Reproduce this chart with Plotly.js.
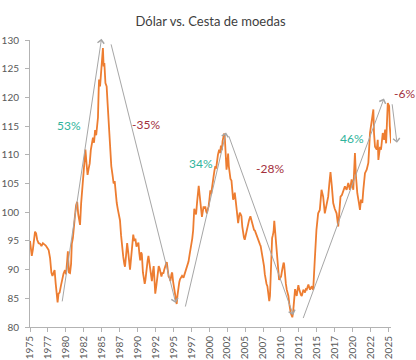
<!DOCTYPE html>
<html>
<head>
<meta charset="utf-8">
<script src="https://cdn.plot.ly/plotly-3.0.1.min.js"></script>
<style>html,body{margin:0;padding:0;background:#fff;}#chart{width:416px;height:360px;}</style>
</head>
<body>
<div id="chart"></div>
<script>
// Decimal year of each observation
const years = [
1975.00,1975.10,1975.25,1975.40,1975.55,1975.70,1975.85,1976.00,1976.20,1976.40,1976.60,1976.80,
1977.00,1977.20,1977.40,1977.60,1977.80,1977.98,1978.13,1978.28,1978.43,1978.58,1978.73,1978.85,
1978.98,1979.13,1979.33,1979.53,1979.68,1979.88,1980.03,1980.18,1980.28,1980.43,1980.58,1980.73,
1980.83,1980.98,1981.13,1981.28,1981.43,1981.58,1981.73,1981.88,1981.98,1982.13,1982.28,1982.43,
1982.58,1982.73,1982.88,1983.03,1983.18,1983.33,1983.48,1983.63,1983.78,1983.93,1984.08,1984.23,
1984.38,1984.48,1984.57,1984.63,1984.77,1984.87,1984.97,1985.10,1985.17,1985.27,1985.37,1985.52,
1985.69,1985.82,1985.93,1986.06,1986.18,1986.34,1986.51,1986.66,1986.81,1986.95,1987.10,1987.25,
1987.40,1987.55,1987.70,1987.85,1988.00,1988.15,1988.25,1988.40,1988.55,1988.70,1988.85,1988.95,
1989.10,1989.25,1989.40,1989.55,1989.70,1989.85,1990.00,1990.12,1990.25,1990.37,1990.50,1990.60,
1990.75,1990.85,1991.00,1991.10,1991.25,1991.40,1991.52,1991.65,1991.75,1991.90,1992.00,1992.15,
1992.25,1992.37,1992.47,1992.60,1992.70,1992.85,1992.95,1993.08,1993.18,1993.33,1993.48,1993.60,
1993.73,1993.85,1993.98,1994.08,1994.23,1994.33,1994.48,1994.58,1994.73,1994.83,1994.97,1995.12,
1995.24,1995.37,1995.46,1995.57,1995.69,1995.82,1995.92,1996.06,1996.21,1996.41,1996.61,1996.76,
1996.86,1997.01,1997.11,1997.26,1997.36,1997.51,1997.63,1997.76,1997.86,1997.91,1998.03,1998.16,
1998.31,1998.43,1998.53,1998.66,1998.76,1998.88,1998.98,1999.11,1999.21,1999.33,1999.45,1999.56,
1999.68,1999.81,1999.91,2000.03,2000.15,2000.27,2000.38,2000.49,2000.61,2000.73,2000.85,2000.96,
2001.06,2001.21,2001.38,2001.51,2001.63,2001.76,2001.86,2001.99,2002.08,2002.18,2002.29,2002.41,
2002.53,2002.63,2002.73,2002.86,2002.96,2003.10,2003.24,2003.33,2003.46,2003.56,2003.69,2003.79,
2003.91,2004.03,2004.14,2004.26,2004.39,2004.49,2004.61,2004.73,2004.84,2004.95,2005.05,2005.17,
2005.29,2005.41,2005.57,2005.74,2005.87,2005.97,2006.12,2006.25,2006.37,2006.47,2006.59,2006.72,
2006.84,2006.97,2007.07,2007.17,2007.27,2007.37,2007.50,2007.64,2007.75,2007.87,2007.99,2008.11,
2008.19,2008.27,2008.37,2008.47,2008.57,2008.67,2008.77,2008.87,2008.97,2009.07,2009.15,2009.27,
2009.39,2009.51,2009.62,2009.74,2009.87,2010.02,2010.15,2010.27,2010.37,2010.44,2010.57,2010.69,
2010.81,2010.93,2011.04,2011.17,2011.27,2011.37,2011.47,2011.59,2011.69,2011.77,2011.87,2011.97,
2012.09,2012.20,2012.31,2012.43,2012.54,2012.66,2012.78,2012.90,2013.01,2013.13,2013.26,2013.36,
2013.48,2013.60,2013.72,2013.83,2013.96,2014.06,2014.18,2014.30,2014.41,2014.50,2014.72,2014.95,
2015.19,2015.42,2015.66,2015.89,2016.12,2016.35,2016.59,2016.75,2016.91,2017.10,2017.29,2017.50,
2017.76,2017.99,2018.15,2018.31,2018.50,2018.69,2018.92,2019.16,2019.39,2019.62,2019.86,2020.09,
2020.32,2020.46,2020.65,2020.88,2021.02,2021.16,2021.35,2021.49,2021.72,2021.96,2022.19,2022.42,
2022.66,2022.89,2022.98,2023.12,2023.36,2023.50,2023.59,2023.82,2023.96,2024.20,2024.39,2024.53,
2024.67,2024.90,2025.09,2025.18,2025.37
];
// Dollar index vs. basket of currencies
const dollarIndex = [
95.0,93.2,92.4,93.5,95.8,96.6,96.3,95.2,94.6,94.5,94.1,94.6,
94.4,94.2,93.8,93.4,92.0,89.5,88.9,89.6,89.9,87.6,85.8,84.3,
85.8,86.0,87.3,88.6,89.3,89.9,89.2,91.5,93.2,89.5,89.4,91.0,
94.5,95.5,97.0,99.5,101.2,101.8,99.6,98.6,97.8,101.5,104.0,107.4,
109.8,110.9,108.5,106.5,107.6,108.5,110.8,112.2,113.0,112.1,114.3,113.4,
115.0,116.5,121.0,123.1,121.9,123.7,126.0,128.3,128.6,125.4,126.0,122.5,
121.9,119.0,116.1,113.0,111.0,108.0,106.5,105.0,105.4,103.0,101.6,100.5,
99.5,98.6,96.0,93.2,92.3,91.0,90.5,92.5,94.6,93.0,91.2,90.0,
92.0,94.8,96.1,95.0,95.4,94.0,94.3,94.7,92.8,91.6,93.0,92.7,
89.5,88.6,87.5,88.2,90.4,91.5,92.4,91.0,90.0,88.5,88.0,89.8,
90.6,88.0,85.8,87.0,88.3,89.8,90.6,90.2,89.7,88.8,89.5,89.3,
90.0,90.7,91.0,91.3,89.8,88.8,88.5,88.0,89.2,89.5,87.8,86.5,
85.3,84.3,84.0,85.5,87.2,87.8,88.3,88.6,88.9,88.6,89.4,89.6,
90.0,90.8,91.4,92.6,93.3,94.5,95.4,96.9,99.5,100.6,100.0,99.6,
101.8,103.5,104.6,103.0,101.5,100.0,99.2,100.2,101.0,100.6,101.0,100.2,
99.8,100.6,101.0,102.3,103.8,103.2,104.5,105.6,106.3,107.3,108.0,107.6,
108.7,110.0,110.9,110.3,111.6,110.8,112.4,113.0,113.7,112.8,110.5,107.4,
108.5,110.2,108.0,106.6,105.8,105.5,104.0,102.2,102.6,103.4,102.0,101.0,
100.0,98.1,99.1,99.9,99.6,99.3,97.5,95.8,95.6,95.2,95.8,96.4,
97.4,98.1,98.7,99.3,98.6,98.1,97.3,96.9,96.8,96.4,96.1,95.8,
95.3,94.6,94.4,94.1,93.4,92.3,91.5,90.6,89.2,87.7,87.5,87.1,
85.9,84.8,84.5,85.4,89.0,93.5,95.5,96.0,96.6,98.5,97.3,95.8,
93.5,91.7,89.8,88.2,88.5,88.8,89.8,90.6,91.2,91.0,88.2,87.5,
86.5,86.0,85.4,84.0,83.0,82.4,82.1,81.7,82.5,83.8,85.3,86.6,
85.9,85.4,86.4,87.3,86.6,86.0,85.6,85.4,86.0,86.5,86.2,86.0,
86.6,86.5,87.0,87.4,86.8,86.5,86.8,87.1,86.7,86.5,91.7,96.9,
99.8,100.4,103.9,102.7,99.8,101.0,102.7,105.0,107.0,104.5,101.6,100.6,
99.8,97.5,100.0,102.7,103.0,103.9,104.5,103.9,105.1,103.9,105.7,103.9,
110.3,106.3,103.3,101.6,100.4,102.2,101.6,103.9,106.8,107.4,108.6,113.8,
115.6,117.9,113.8,111.4,110.9,112.6,109.1,111.4,110.9,113.8,112.6,114.4,
112.0,119.0,118.5,115.0,112.0
];
// X axis ticks every 30 months, labelled by year
const tickYears = [1975,1977.5,1980,1982.5,1985,1987.5,1990,1992.5,1995,1997.5,2000,2002.5,2005,2007.5,2010,2012.5,2015,2017.5,2020,2022.5,2025];
const tickLabels = ["1975","1977","1980","1982","1985","1987","1990","1992","1995","1997","2000","2002","2005","2007","2010","2012","2015","2017","2020","2022","2025"];
const yTicks = [80,85,90,95,100,105,110,115,120,125,130];
// Cycle move labels
const moveLabels = ["53%","-35%","34%","-28%","46%","-6%"];

const teal = "#2fb39c", red = "#a3303c", arrowGray = "#a6a6a6";
const lblFont = (c) => ({family: "Lato, 'Open Sans', sans-serif", size: 12, color: c});

const arrows = [
  {x:1984.97, y:130.2, ax:1979.46, ay:84.2},
  {x:1995.32, y:84.2, ax:1986.26, ay:129.5},
  {x:2002.34, y:113.9, ax:1996.62, ay:83.3},
  {x:2011.72, y:82.1, ax:2002.66, ay:113.5},
  {x:2024.37, y:119.8, ax:2013.03, ay:81.3}
].map(a => Object.assign({xref:'x', yref:'y', axref:'x', ayref:'y', showarrow:true,
   arrowhead:4, arrowsize:1.3, arrowwidth:1, arrowcolor:arrowGray, text:''}, a));
arrows.push({xref:'paper', yref:'y', x:1.0165, y:112.1, axref:'pixel', ayref:'pixel', ax:-5, ay:-40,
   showarrow:true, arrowhead:4, arrowsize:1.3, arrowwidth:1, arrowcolor:arrowGray, text:''});

const labels = [
  {xref:'x', yref:'y', x:1980.37, y:115.1, text:moveLabels[0], font:lblFont(teal)},
  {xref:'x', yref:'y', x:1991.2, y:115.2, text:moveLabels[1], font:lblFont(red)},
  {xref:'x', yref:'y', x:1998.85, y:108.5, text:moveLabels[2], font:lblFont(teal)},
  {xref:'x', yref:'y', x:2008.5, y:107.7, text:moveLabels[3], font:lblFont(red)},
  {xref:'x', yref:'y', x:2019.87, y:112.8, text:moveLabels[4], font:lblFont(teal)},
  {xref:'paper', yref:'y', x:1.037, y:120.6, text:moveLabels[5], font:lblFont(red)}
].map(l => Object.assign({showarrow:false, xanchor:'center', yanchor:'middle'}, l));

const axisCommon = {
  showgrid:false, zeroline:false, showline:true, linecolor:"#b3b3b3", linewidth:1,
  ticks:"outside", ticklen:4, tickcolor:"#b3b3b3", tickwidth:1,
  tickfont:{family:"Lato, 'Open Sans', sans-serif", size:10, color:"#595959"}
};

Plotly.newPlot('chart', [{
  x: years, y: dollarIndex, type:'scatter', mode:'lines',
  line:{color:"#ED7D31", width:1.8}, hoverinfo:'skip'
}], {
  width:416, height:360,
  margin:{l:30, r:25, t:40, b:33},
  paper_bgcolor:"#fff", plot_bgcolor:"#fff",
  showlegend:false,
  title:{text:"Dólar vs. Cesta de moedas", x:0.5, xref:'paper', xanchor:'center',
         y:0.94, yref:'container', yanchor:'middle',
         font:{family:"Lato, 'Open Sans', sans-serif", size:13, color:"#404040"}},
  xaxis:Object.assign({}, axisCommon, {range:[1975,2025.35], tickmode:'array', tickvals:tickYears,
        ticktext:tickLabels, tickangle:-90}),
  yaxis:Object.assign({}, axisCommon, {range:[80,130], tickmode:'array', tickvals:yTicks,
        ticklabelstandoff:4}),
  annotations: arrows.concat(labels)
}, {staticPlot:true});
</script>
</body>
</html>
